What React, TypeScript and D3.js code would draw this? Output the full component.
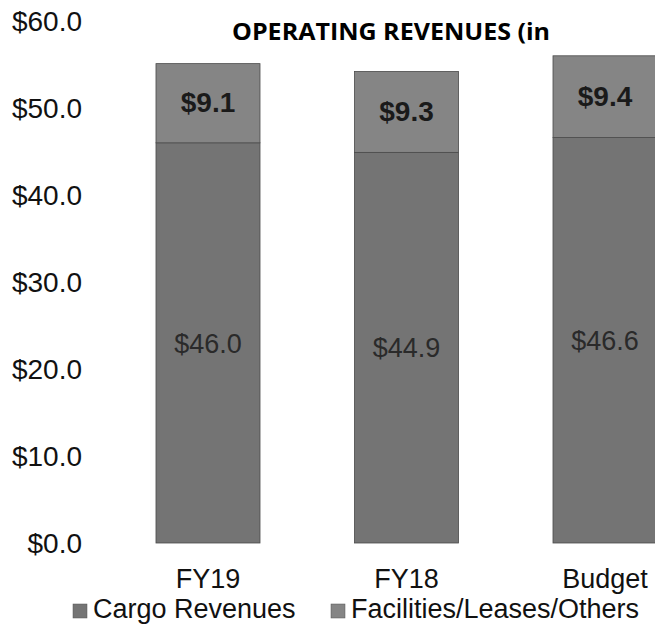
import React from "react";
import * as d3 from "d3";

const categories = ["FY19", "FY18", "Budget"];
const cargoRevenues = [46.0, 44.9, 46.6];
const facilitiesRevenues = [9.1, 9.3, 9.4];
const yTicks = [0, 10, 20, 30, 40, 50, 60];
const seriesNames = ["Cargo Revenues", "Facilities/Leases/Others"];
const title = "OPERATING REVENUES (in";

const W = 655;
const H = 627;
const colors = ["#747474", "#858585"];
const FONT = "'Liberation Sans', Arial, sans-serif";

export default function App() {
  const y = d3.scaleLinear().domain([0, 60]).range([543, 21]);
  const x = d3
    .scaleBand<string>()
    .domain(categories)
    .range([61.5, 751.5])
    .paddingInner(0.476)
    .paddingOuter(0.476);

  const data = categories.map((c, i) => ({
    cat: c,
    cargo: cargoRevenues[i],
    fac: facilitiesRevenues[i],
  }));
  const stack = d3.stack<any>().keys(["cargo", "fac"])(data);
  const fmt = (v: number) => "$" + d3.format(".1f")(v);

  return (
    <svg
      width={W}
      height={H}
      style={{ position: "absolute", left: 0, top: 0, background: "#fff" }}
    >
      <text
        x={391}
        y={40}
        textAnchor="middle"
        fontFamily="'Open Sans', sans-serif"
        fontWeight={700}
        fontSize={24}
        textLength={318}
        lengthAdjust="spacingAndGlyphs"
        fill="#000"
      >
        {title}
      </text>

      {yTicks.map((t) => (
        <text
          key={t}
          x={82}
          y={y(t)}
          dy="0.36em"
          textAnchor="end"
          fontFamily={FONT}
          fontSize={28}
          fill="#111"
        >
          {fmt(t)}
        </text>
      ))}

      {stack.map((layer, li) =>
        layer.map((d, i) => (
          <rect
            key={li + "-" + i}
            x={x(categories[i])}
            y={y(d[1])}
            width={x.bandwidth()}
            height={y(d[0]) - y(d[1])}
            fill={colors[li]}
            stroke="#4a4a4a"
            strokeWidth={0.8}
          />
        ))
      )}

      {data.map((d) => (
        <text
          key={"c" + d.cat}
          x={(x(d.cat) as number) + x.bandwidth() / 2}
          y={(y(0) + y(d.cargo)) / 2}
          dy="0.36em"
          textAnchor="middle"
          fontFamily={FONT}
          fontSize={27}
          fill="#2a2a2a"
        >
          {fmt(d.cargo)}
        </text>
      ))}
      {data.map((d) => (
        <text
          key={"f" + d.cat}
          x={(x(d.cat) as number) + x.bandwidth() / 2}
          y={(y(d.cargo) + y(d.cargo + d.fac)) / 2 - 1}
          dy="0.36em"
          textAnchor="middle"
          fontFamily={FONT}
          fontWeight={700}
          fontSize={28}
          fill="#1a1a1a"
        >
          {fmt(d.fac)}
        </text>
      ))}

      {categories.map((c) => (
        <text
          key={"x" + c}
          x={(x(c) as number) + x.bandwidth() / 2}
          y={588}
          textAnchor="middle"
          fontFamily={FONT}
          fontSize={27}
          fill="#111"
        >
          {c}
        </text>
      ))}

      {seriesNames.map((s, i) => {
        const lx = [73, 331][i];
        return (
          <g key={s}>
            <rect
              x={lx}
              y={604}
              width={14}
              height={14}
              fill={colors[i]}
              stroke="#555"
              strokeWidth={0.5}
            />
            <text
              x={lx + 20}
              y={618}
              fontFamily={FONT}
              fontSize={27}
              fill="#111"
            >
              {s}
            </text>
          </g>
        );
      })}
    </svg>
  );
}
